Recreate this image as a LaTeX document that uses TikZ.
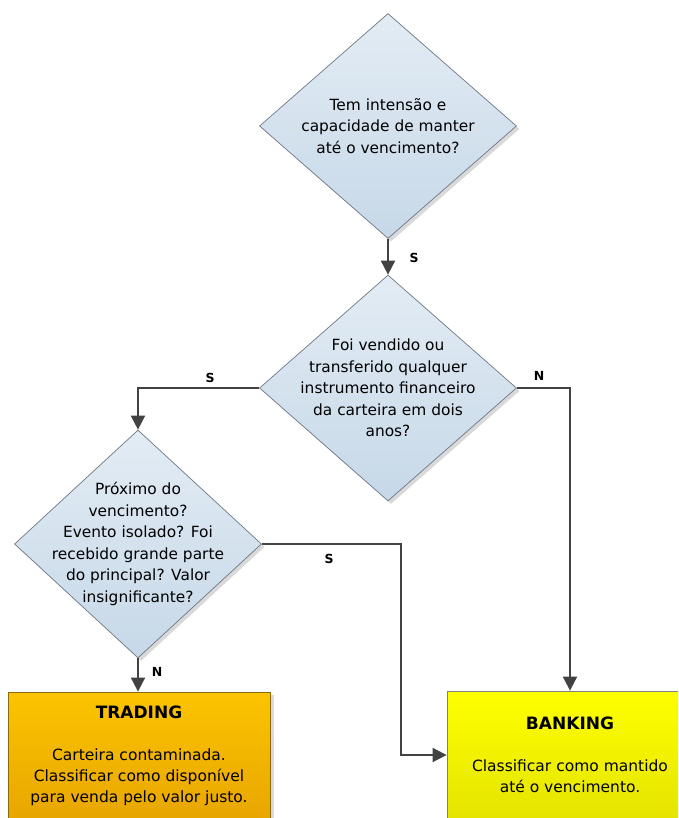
\documentclass[tikz,border=0pt]{standalone}
\usepackage{fontspec}
\setmainfont{DejaVu Sans}
\usepackage{tikz}
\usetikzlibrary{shapes.geometric,arrows.meta,shadows}

\definecolor{dtop}{HTML}{E3ECF4}
\definecolor{dbot}{HTML}{C6D8E8}
\definecolor{dline}{HTML}{6E7884}
\definecolor{flowgray}{HTML}{424242}
\definecolor{trtop}{HTML}{FCC400}
\definecolor{trbot}{HTML}{E8A600}
\definecolor{trline}{HTML}{8A6A10}
\definecolor{bktop}{HTML}{FFFF00}
\definecolor{bkbot}{HTML}{E4E400}

\begin{document}
\begin{tikzpicture}[x=1pt,y=-1pt,
  decision/.style={diamond,draw=dline,line width=0.7pt,inner sep=0pt,
    top color=dtop,bottom color=dbot,
    drop shadow={opacity=0.3,shadow xshift=3pt,shadow yshift=-3pt}},
  question/.style={align=center,inner sep=0pt,
    font=\fontsize{15.4}{21.5}\selectfont},
  outcome/.style={rectangle,line width=0.8pt,inner sep=0pt,align=center,
    minimum height=128pt,font=\fontsize{15.5}{21}\selectfont,
    drop shadow={opacity=0.3,shadow xshift=4pt,shadow yshift=-3pt}},
  flow/.style={draw=flowgray,line width=1.8pt,
    -{Triangle[length=14pt,width=14pt]}},
  lbl/.style={font=\fontsize{12.5}{14}\selectfont\bfseries}]
 \useasboundingbox (0,0) rectangle (678,818);
 \clip (0,0) rectangle (678,818);

 % decisions
 \node[decision,minimum width=257pt,minimum height=225pt] (keep) at (388,126) {};
 \node[question] (keepq) at (keep)
  {Tem intensão e\\capacidade de manter\\até o vencimento?};
 \node[decision,minimum width=257pt,minimum height=226pt] (sold) at (388,388) {};
 \node[question] (soldq) at (sold)
  {Foi vendido ou\\transferido qualquer\\instrumento financeiro\\da carteira em dois\\anos?};
 \node[decision,minimum width=247pt,minimum height=228pt] (excep) at (138,544) {};
 \node[question] (excepq) at (excep)
  {Próximo do\\vencimento?\\Evento isolado? Foi\\recebido grande parte\\do principal? Valor\\insignificante?};

 % results
 \node[outcome,draw=trline,top color=trtop,bottom color=trbot,
  minimum width=262pt] (trading) at (139,756)
  {{\fontsize{17}{21}\selectfont\bfseries TRADING}\\[21pt]Carteira contaminada.\\Classificar como disponível\\para venda pelo valor justo.};
 \node[outcome,draw=gray,top color=bktop,bottom color=bkbot,
  minimum width=246pt] (banking) at (570,755)
  {{\fontsize{17}{21}\selectfont\bfseries BANKING}\\[21pt]Classificar como mantido\\até o vencimento.};

 % connectors
 \draw[flow] (keep.south) -- (sold.north);
 \draw[flow] (sold.west) -| (excep.north);
 \draw[flow] (sold.east) -| (banking.north);
 \draw[flow] (excep.south) -- (excep.south |- trading.north);
 \draw[flow] (excep.east) -- (401,544) |- (banking.west);

 \node[lbl] (s1) at (414,258) {S};
 \node[lbl] (s2) at (210,378) {S};
 \node[lbl] (n1) at (539,376) {N};
 \node[lbl] (s3) at (329,559) {S};
 \node[lbl] (n2) at (157,672) {N};
\end{tikzpicture}
\end{document}
